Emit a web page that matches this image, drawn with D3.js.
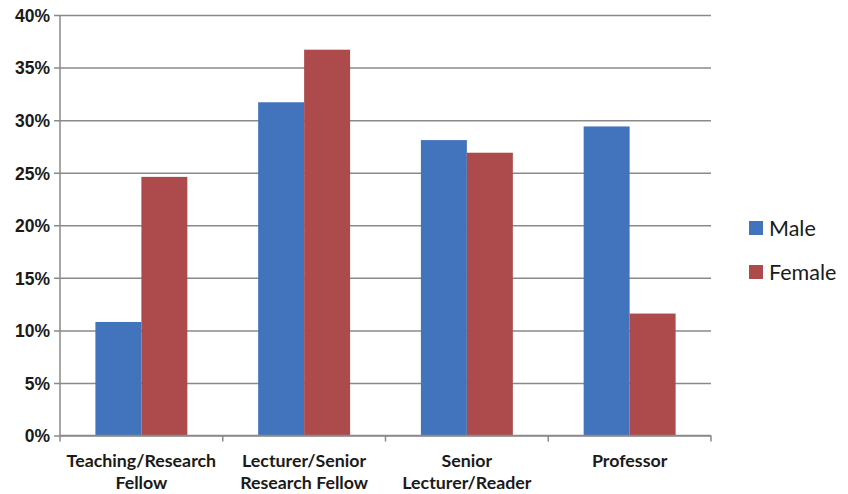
<!DOCTYPE html>
<html>
<head>
<meta charset="utf-8">
<script src="https://cdn.jsdelivr.net/npm/d3@7/dist/d3.min.js"></script>
<style>
  html, body { margin: 0; padding: 0; background: #fff; }
  svg { display: block; font-family: Lato, "Open Sans", "Liberation Sans", sans-serif; }
</style>
</head>
<body>
<svg id="chart" width="848" height="494"></svg>
<script>
// Share of staff in each academic grade, by gender
const categories = [
  ["Teaching/Research", "Fellow"],
  ["Lecturer/Senior", "Research Fellow"],
  ["Senior", "Lecturer/Reader"],
  ["Professor"]
];
const seriesNames = ["Male", "Female"];
const maleValues = [10.8, 31.7, 28.1, 29.4];
const femaleValues = [24.6, 36.7, 26.9, 11.6];
const yTicks = [0, 5, 10, 15, 20, 25, 30, 35, 40];
const colors = ["#4274BD", "#AD4A4B"];

const svg = d3.select("#chart");
const margin = { left: 60, right: 137, top: 15, bottom: 58.5 };
const W = 848, H = 494;
const x0 = margin.left, x1 = W - margin.right;
const y0 = H - margin.bottom, y1 = margin.top;

const keys = categories.map((c, i) => i);
const x = d3.scaleBand().domain(keys).range([x0, x1]).paddingInner(0).paddingOuter(0);
const inner = d3.scaleBand().domain(seriesNames).range([0, x.bandwidth()])
  .paddingInner(0).paddingOuter(0.77);
const y = d3.scaleLinear().domain([0, 40]).range([y0, y1]);

const rows = keys.map(i => ({ i, values: [maleValues[i], femaleValues[i]] }));

// horizontal gridlines with short ticks left of the axis
const yAxis = d3.axisLeft(y).tickValues(yTicks).tickFormat(d => d + "%")
  .tickSize(-(x1 - x0)).tickPadding(10);
const gy = svg.append("g").attr("transform", `translate(${x0},0)`).call(yAxis);
gy.select(".domain").remove();
gy.selectAll(".tick line").attr("stroke", "#8a8a8a").attr("stroke-width", 1.5)
  .attr("x1", -6);
gy.selectAll(".tick text").attr("fill", "#1a1a1a").attr("font-size", 17.5)
  .attr("font-weight", "bold").attr("dy", "0.36em");

// vertical axis line
svg.append("line").attr("x1", x0).attr("x2", x0).attr("y1", y1).attr("y2", y0 + 0.5)
  .attr("stroke", "#8a8a8a").attr("stroke-width", 1.5);

// bars
const groups = svg.append("g").selectAll("g").data(rows).join("g")
  .attr("transform", d => `translate(${x(d.i)},0)`);
groups.selectAll("rect").data(d => d.values.map((v, k) => ({ v, k })))
  .join("rect")
  .attr("x", d => inner(seriesNames[d.k]))
  .attr("width", inner.bandwidth())
  .attr("y", d => y(d.v))
  .attr("height", d => y(0) - y(d.v))
  .attr("fill", d => colors[d.k]);

// x axis with tick marks at category boundaries
svg.append("line").attr("x1", x0).attr("x2", x1).attr("y1", y0).attr("y2", y0)
  .attr("stroke", "#8a8a8a").attr("stroke-width", 1.5);
const boundaries = keys.map(i => x(i)).concat([x1]);
svg.append("g").selectAll("line").data(boundaries).join("line")
  .attr("x1", d => d).attr("x2", d => d).attr("y1", y0).attr("y2", y0 + 6)
  .attr("stroke", "#8a8a8a").attr("stroke-width", 1.5);

// category labels
const labels = svg.append("g").selectAll("text").data(keys).join("text")
  .attr("text-anchor", "middle")
  .attr("font-size", 17.8).attr("font-weight", "bold").attr("fill", "#1a1a1a")
  .attr("x", i => x(i) + x.bandwidth() / 2)
  .attr("y", y0 + 31);
labels.selectAll("tspan").data(i => categories[i]).join("tspan")
  .attr("x", function () { return d3.select(this.parentNode).attr("x"); })
  .attr("dy", (d, k) => k === 0 ? 0 : 22)
  .text(d => d);

// legend
const legend = svg.append("g").selectAll("g").data(seriesNames).join("g")
  .attr("transform", (d, k) => `translate(749,${221 + k * 44})`);
legend.append("rect").attr("width", 14).attr("height", 14)
  .attr("fill", (d, k) => colors[k]);
legend.append("text").attr("x", 20).attr("y", 14.5)
  .attr("font-size", 21.5).attr("fill", "#1a1a1a").text(d => d);
</script>
</body>
</html>
